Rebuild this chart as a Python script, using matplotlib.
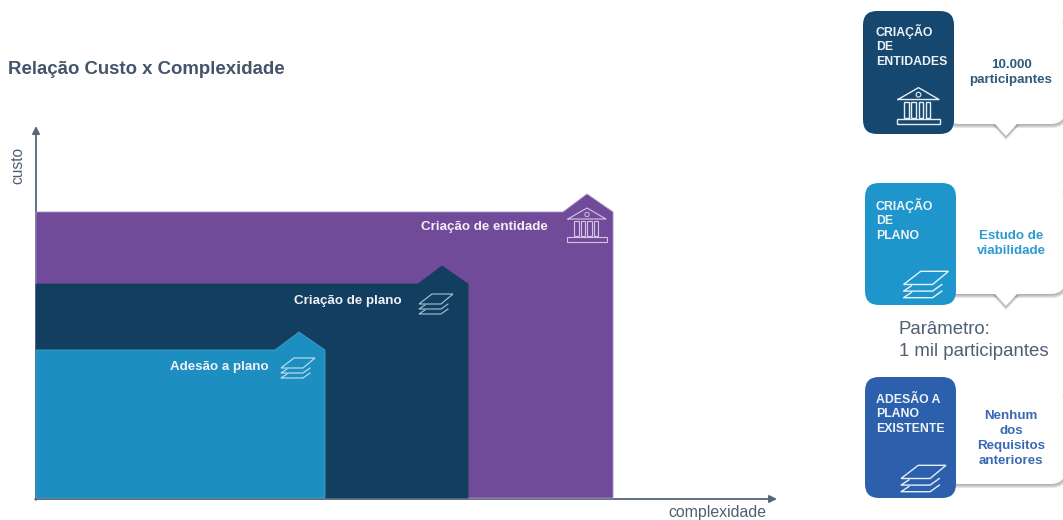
import matplotlib
matplotlib.use("Agg")
import numpy as np
from matplotlib import pyplot as plt
from matplotlib.patches import FancyBboxPatch, Polygon, Rectangle, Circle

plt.rcParams['font.family'] = ['Liberation Sans', 'DejaVu Sans']

# stepped areas: right edge, top level, label
complexity = [613, 468, 325]
cost = [212, 284, 350]
step_colors = ['#724A9A', '#123E60', '#1C8FC0']
step_edges = ['#A690C4', '#123E60', '#3FA0CB']
step_labels = ['Criação de entidade', 'Criação de plano', 'Adesão a plano']

card_titles = ['CRIAÇÃO\nDE\nENTIDADES', 'CRIAÇÃO\nDE\nPLANO', 'ADESÃO A\nPLANO\nEXISTENTE']
card_notes = ['10.000\nparticipantes', 'Estudo de\nviabilidade', 'Nenhum\ndos\nRequisitos\nanteriores']
card_colors = ['#16486F', '#1E96CB', '#2C60AC']
note_colors = ['#2F5A7E', '#2E9BD0', '#3A69B4']

BASE_X, BASE_Y = 36, 499
TEXT_GRAY = '#4F6073'

fig = plt.figure(figsize=(10.63, 5.2), dpi=100)
ax = fig.add_axes([0, 0, 1, 1])
ax.set_xlim(0, 1063)
ax.set_ylim(520, 0)
ax.axis('off')


def draw_bank(cx, cy, color, lw=1.0, size=1.0, z=5):
    # roof, columns and plinth of the building icon
    ax.plot(cx + np.array([-19, 0, 19, -19]) * size, cy + np.array([-6, -17, -6, -6]) * size,
            color=color, lw=lw, zorder=z)
    ax.add_patch(Circle((cx, cy - 10.5 * size), 2.2 * size, fill=False, ec=color, lw=lw * 0.8, zorder=z))
    for dx in [-13, -6.5, 0, 6.5]:
        ax.add_patch(Rectangle((cx + dx * size, cy - 4 * size), 4.5 * size, 15 * size,
                               fill=False, ec=color, lw=lw, zorder=z))
    ax.add_patch(Rectangle((cx - 20 * size, cy + 12 * size), 40 * size, 4.5 * size,
                           fill=False, ec=color, lw=lw, zorder=z))


def draw_layers(cx, cy, color, lw=1.0, size=1.0, z=5):
    # top sheet plus the visible edges of the two sheets below it
    for dy in [5, 10]:
        ax.plot(cx + np.array([-11, -17, 5, 12]) * size, cy + (np.array([-4, 0, 0, -5]) + dy) * size,
                color=color, lw=lw, zorder=z)
    sheet = np.array([[-17, 0], [-4, -10], [17, -10], [5, 0]]) * size + [cx, cy]
    ax.add_patch(Polygon(sheet, closed=True, fill=False, ec=color, lw=lw, zorder=z))


# axes arrows sit under the fills
ax.annotate('', xy=(36, 126), xytext=(36, 500), zorder=1,
            arrowprops=dict(arrowstyle='-|>', color='#56677A', lw=1.3, mutation_scale=11, shrinkA=0, shrinkB=0))
ax.annotate('', xy=(777, 499), xytext=(35, 499), zorder=1,
            arrowprops=dict(arrowstyle='-|>', color='#56677A', lw=1.3, mutation_scale=11, shrinkA=0, shrinkB=0))

# widest area first so the narrower ones sit on top
for right, top, color, edge in zip(complexity, cost, step_colors, step_edges):
    outline = [(BASE_X, BASE_Y - 1), (BASE_X, top), (right - 50, top), (right - 26, top - 18),
               (right, top), (right, BASE_Y - 1)]
    ax.add_patch(Polygon(outline, closed=True, fc=color, ec=edge, lw=0.6, zorder=2))

label_right = [548, 402, 269]
label_y = [227, 301, 367]
for i in range(3):
    ax.text(label_right[i], label_y[i], step_labels[i], color='#F2F0F6', fontsize=9.6, fontweight='bold',
            ha='right', va='center', zorder=4)

draw_bank(587, 225, '#D4C6E2', lw=0.8, size=1.0)
draw_layers(436, 304, '#A9C4D6', lw=0.8)
draw_layers(298, 368, '#C4E2F1', lw=0.8)

ax.text(18, 165, 'custo', rotation=90, color=TEXT_GRAY, fontsize=11.2, ha='center', va='center')
ax.text(717, 512.5, 'complexidade', color=TEXT_GRAY, fontsize=11.4, ha='center', va='center')
ax.text(8, 69, 'Relação Custo x Complexidade', color='#44546A', fontsize=13.4, fontweight='bold',
        ha='left', va='center')

# cards with their speech bubbles
card_boxes = [(863, 11, 91, 123), (865, 183, 91, 122), (865, 377, 91, 121)]
bubble_boxes = [(945, 18, 120, 106), (945, 188, 120, 106), (945, 391, 120, 93)]
title_x = [876, 876, 876]
title_y = [24, 198, 394]
has_tail = [True, True, False]
note_y = [72.5, 243.5, 438.5]


def bubble_shape(box, tail, grow, dy, fc, alpha, z):
    x, y, w, h = box
    ax.add_patch(FancyBboxPatch((x - grow, y - grow + dy), w + 2 * grow, h + 2 * grow,
                                boxstyle='round,pad=0,rounding_size=14', fc=fc, ec='none', alpha=alpha, zorder=z))
    if tail:
        ax.add_patch(Polygon([(994 - grow, y + h - 1 + dy), (1006, y + h + 12 + grow + dy),
                              (1018 + grow, y + h - 1 + dy)], closed=True, fc=fc, ec='none',
                             alpha=alpha, zorder=z))


for i in range(3):
    # soft shadow from a few faint offset copies
    for grow, dy in [(1.5, 2.5), (1.0, 2.0), (0.5, 1.5), (0.0, 1.0)]:
        bubble_shape(bubble_boxes[i], has_tail[i], grow, dy, '#6E6E6E', 0.17, 6)
    bubble_shape(bubble_boxes[i], has_tail[i], 0.0, 0.0, 'white', 1.0, 7)
    ax.text(1011, note_y[i], card_notes[i], color=note_colors[i], fontsize=9.6, fontweight='bold',
            ha='center', va='center', linespacing=1.32, zorder=8)

    x, y, w, h = card_boxes[i]
    ax.add_patch(FancyBboxPatch((x, y), w, h, boxstyle='round,pad=0,rounding_size=14',
                                fc=card_colors[i], ec='none', zorder=9))
    ax.text(title_x[i], title_y[i], card_titles[i], color='#EEF3F8', fontsize=8.8, fontweight='bold',
            ha='left', va='top', linespacing=1.27, zorder=10)

draw_bank(918.5, 106, '#E6EEF4', lw=1.0, size=1.08, z=11)
draw_layers(926, 284.5, '#E6F3FA', lw=1.0, size=1.32, z=11)
draw_layers(923.5, 478.5, '#E6EEF8', lw=1.0, size=1.32, z=11)

ax.text(899, 329, 'Parâmetro:', color=TEXT_GRAY, fontsize=13.4, ha='left', va='center', zorder=12)
ax.text(899, 352, '1 mil participantes', color=TEXT_GRAY, fontsize=13.4, ha='left', va='center', zorder=12)

fig.savefig('out.png', dpi=100)
